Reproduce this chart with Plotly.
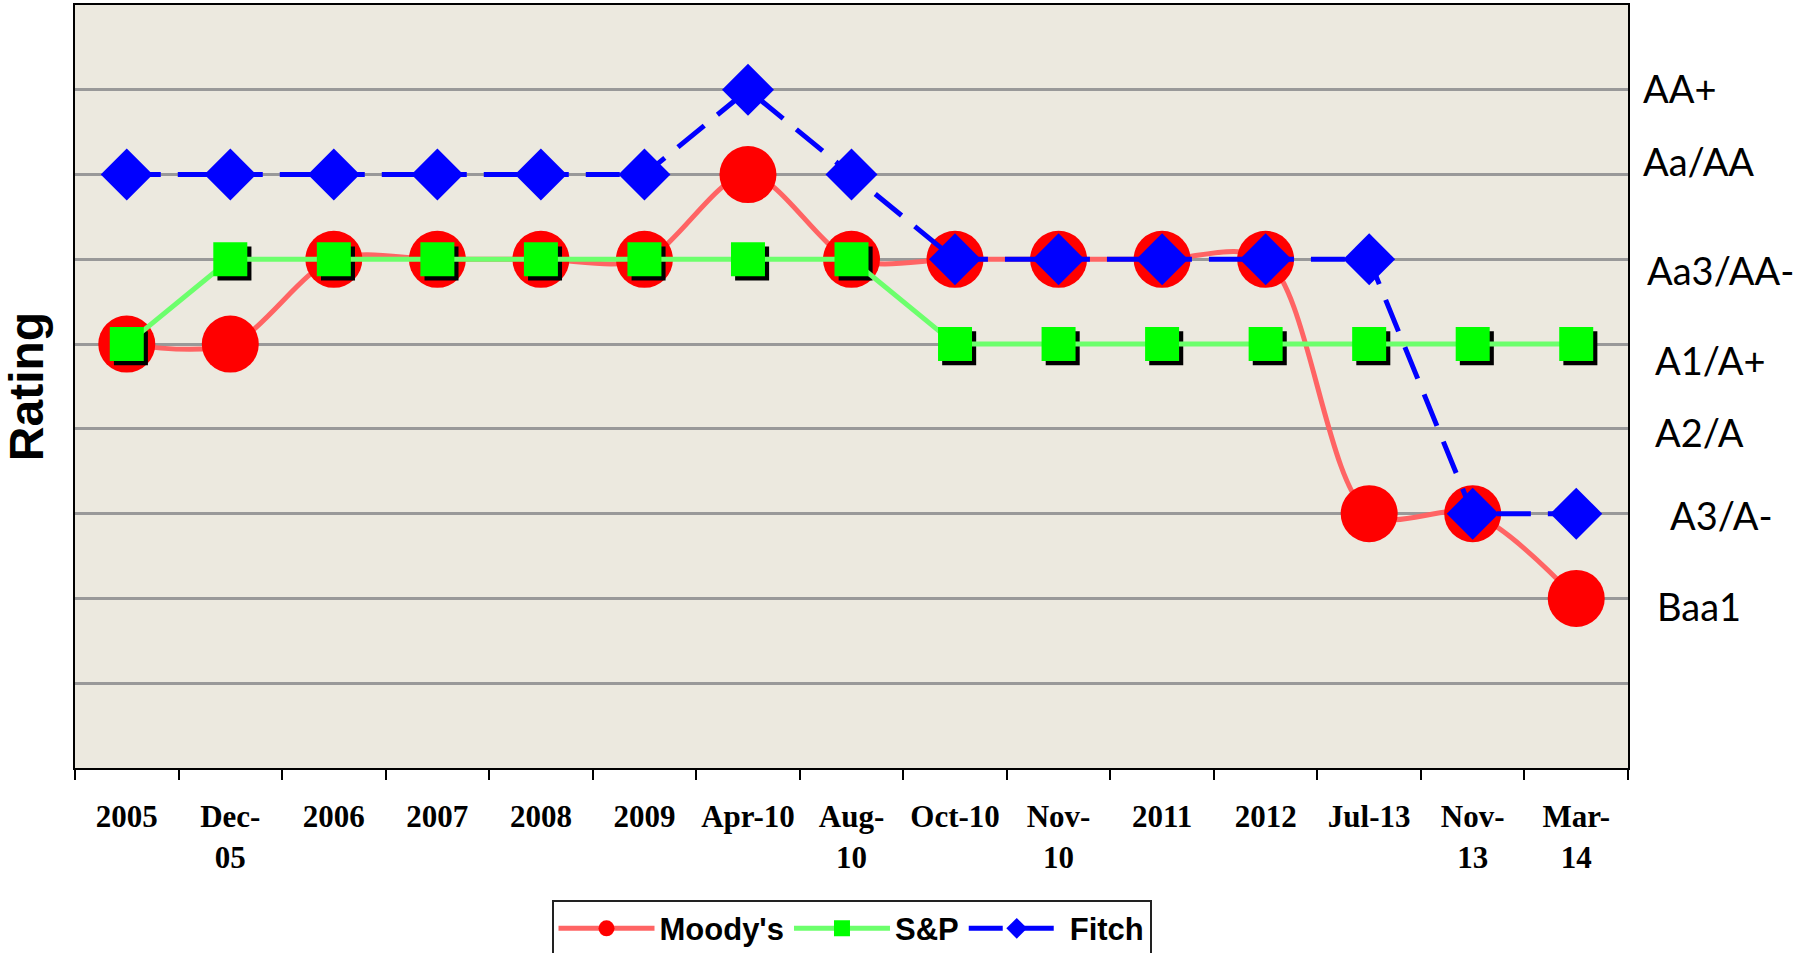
import plotly.graph_objects as go

categories = ["2005", "Dec-05", "2006", "2007", "2008", "2009", "Apr-10", "Aug-10",
              "Oct-10", "Nov-10", "2011", "2012", "Jul-13", "Nov-13", "Mar-14"]
tick_labels = ["2005", "Dec-<br>05", "2006", "2007", "2008", "2009", "Apr-10", "Aug-<br>10",
               "Oct-10", "Nov-<br>10", "2011", "2012", "Jul-13", "Nov-<br>13", "Mar-<br>14"]

# rating scale: 2=Baa1 ... 8=AA+
moodys = [5, 5, 6, 6, 6, 6, 7, 6, 6, 6, 6, 6, 3, 3, 2]
sp = [5, 6, 6, 6, 6, 6, 6, 6, 5, 5, 5, 5, 5, 5, 5]
fitch = [7, 7, 7, 7, 7, 7, 8, 7, 6, 6, 6, 6, 6, 3, 3]

rating_levels = [8, 7, 6, 5, 4, 3, 2]
rating_labels = ["AA+", "Aa/AA", "Aa3/AA-", "A1/A+", "A2/A", "A3/A-", "Baa1"]
label_xshift = [13, 13, 17, 25, 25, 40, 27]
label_yshift = [2, 14, -11, -16, -3, -1, -8]

x = list(range(len(categories)))

fig = go.Figure()

fig.add_trace(go.Scatter(
    x=x, y=moodys, name="Moody's", mode="lines+markers",
    line=dict(color="#FF6464", width=5, shape="spline", smoothing=0.9),
    marker=dict(symbol="circle", size=57, color="#FF0000", line=dict(width=0)),
    text=categories, hoverinfo="text+y+name"))

# drop shadow of the S&P squares
fig.add_trace(go.Scatter(
    x=[v + 0.04 for v in x], y=[v - 0.05 for v in sp], mode="markers",
    marker=dict(symbol="square", size=34, color="#000000", line=dict(width=0)),
    showlegend=False, hoverinfo="skip"))

fig.add_trace(go.Scatter(
    x=x, y=sp, name="S&P", mode="lines+markers",
    line=dict(color="#6CFF6C", width=5),
    marker=dict(symbol="square", size=34, color="#00FF00", line=dict(width=0)),
    text=categories, hoverinfo="text+y+name"))

fig.add_trace(go.Scatter(
    x=x, y=fitch, name="Fitch", mode="lines+markers",
    line=dict(color="#0000FF", width=5, dash="34px,17px"),
    marker=dict(symbol="diamond", size=40, color="#0000FF", line=dict(width=0)),
    text=categories, hoverinfo="text+y+name"))

for lvl, lab, xs, ys in zip(rating_levels, rating_labels, label_xshift, label_yshift):
    fig.add_annotation(
        x=1, xref="paper", xanchor="left", xshift=xs,
        y=lvl, yref="y", yanchor="middle", yshift=ys,
        text=lab, showarrow=False,
        font=dict(family="Lato", size=38, color="#000000"))

fig.update_layout(
    width=1802, height=953,
    margin=dict(l=75, r=174, t=5, b=185, autoexpand=False),
    paper_bgcolor="#FFFFFF",
    plot_bgcolor="#ECE9DF",
    showlegend=True,
    legend=dict(
        orientation="h", x=0.5, xanchor="center", xref="paper",
        y=0.056, yanchor="top", yref="container",
        bgcolor="#FFFFFF", bordercolor="#222222", borderwidth=2,
        font=dict(family="Liberation Sans", size=31, color="#000000", weight="bold"),
        itemwidth=96),
)

fig.update_xaxes(
    range=[-0.5, 14.5], tickmode="array", tickvals=x, ticktext=tick_labels,
    ticks="", showgrid=False, zeroline=False, automargin=False,
    showline=True, linecolor="#000000", linewidth=2, mirror=True,
    tickfont=dict(family="Liberation Serif", size=31, color="#000000", weight="bold"),
    ticklabelstandoff=20,
    minor=dict(tickmode="linear", tick0=-0.5, dtick=1, ticks="outside",
               ticklen=10, tickwidth=2, tickcolor="#000000", showgrid=False))

fig.update_yaxes(
    range=[0, 9], tickmode="linear", tick0=0, dtick=1, showticklabels=False,
    ticks="", showgrid=True, gridcolor="#999999", gridwidth=2.5, zeroline=False,
    showline=True, linecolor="#000000", linewidth=2, mirror=True, automargin=False,
    title=dict(text="Rating", standoff=15,
               font=dict(family="Liberation Sans", size=48, color="#000000", weight="bold")))

fig.write_html("out.html",
               config={"displayModeBar": False},
               post_script="document.body.style.margin='0';document.body.style.overflow='hidden';")
